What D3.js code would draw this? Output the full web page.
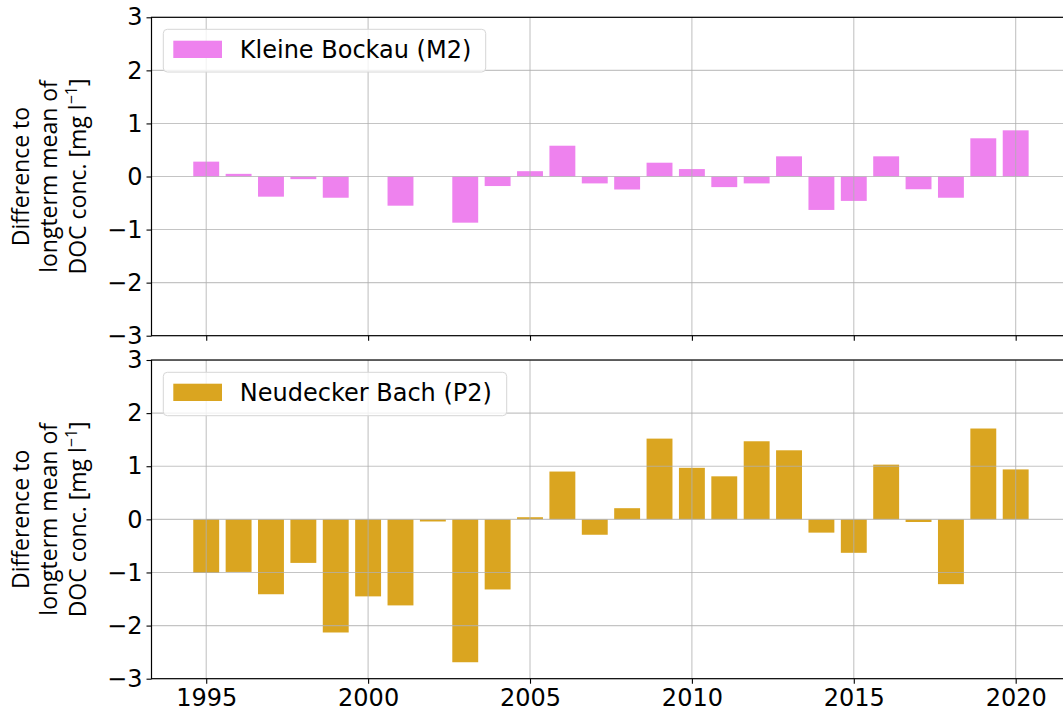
<!DOCTYPE html>
<html>
<head>
<meta charset="utf-8">
<script src="https://cdn.jsdelivr.net/npm/d3@7"></script>
<style>
  html, body { margin: 0; padding: 0; background: #fff; }
  svg { display: block; }
</style>
</head>
<body>
<svg id="chart" width="1063" height="715"></svg>
<script>
// Yearly deviation of DOC concentration from the long-term mean
const years = [1995, 1996, 1997, 1998, 1999, 2000, 2001, 2002, 2003, 2004,
               2005, 2006, 2007, 2008, 2009, 2010, 2011, 2012, 2013, 2014,
               2015, 2016, 2017, 2018, 2019, 2020];

const kleineBockau = [0.28, 0.05, -0.38, -0.05, -0.40, null, -0.55, null, -0.87, -0.18,
                      0.10, 0.58, -0.13, -0.245, 0.26, 0.14, -0.20, -0.13, 0.38, -0.63,
                      -0.46, 0.38, -0.24, -0.40, 0.72, 0.87];

const neudeckerBach = [-1.01, -0.99, -1.41, -0.82, -2.13, -1.45, -1.62, -0.04, -2.69, -1.32,
                       0.04, 0.90, -0.29, 0.21, 1.52, 0.97, 0.81, 1.47, 1.30, -0.25,
                       -0.63, 1.03, -0.05, -1.22, 1.71, 0.94];

const seriesNames = ["Kleine Bockau (M2)", "Neudecker Bach (P2)"];
const seriesColors = ["#ee82ee", "#daa520"];
const yTicks = [-3, -2, -1, 0, 1, 2, 3];
const xTicks = [1995, 2000, 2005, 2010, 2015, 2020];
const yLabelLines = ["Difference to", "longterm mean of", "DOC conc. [mg l"];

const svg = d3.select("#chart");
const tickFont = "DejaVu Sans, sans-serif";
const fontSize = 24;

const barWidth = 0.8;
const x = d3.scaleLinear().domain([1993.31, 2021.69]).range([151.5, 1070.4]);

const panels = [
  { values: kleineBockau, top: 17.3, bottom: 335.7, showXLabels: false,
    legend: { x: 163.3, y: 29.3, w: 322.4, h: 42.7 } },
  { values: neudeckerBach, top: 360, bottom: 678.7, showXLabels: true,
    legend: { x: 163.3, y: 372.3, w: 343.4, h: 43.4 } }
];

const fmt = d => (d < 0 ? "\u2212" + Math.abs(d) : String(d));

panels.forEach((p, i) => {
  const y = d3.scaleLinear().domain([-3, 3]).range([p.bottom, p.top]);
  const g = svg.append("g");

  // clip to the axes area
  const clipId = "clip" + i;
  svg.append("clipPath").attr("id", clipId)
    .append("rect")
    .attr("x", x.range()[0]).attr("y", p.top)
    .attr("width", x.range()[1] - x.range()[0]).attr("height", p.bottom - p.top);

  const data = years.map((yr, k) => ({ year: yr, v: p.values[k] })).filter(d => d.v != null);

  // bars
  g.append("g").attr("clip-path", `url(#${clipId})`)
    .selectAll("rect").data(data).join("rect")
    .attr("x", d => x(d.year - barWidth / 2))
    .attr("width", d => x(d.year + barWidth / 2) - x(d.year - barWidth / 2))
    .attr("y", d => y(Math.max(0, d.v)))
    .attr("height", d => Math.abs(y(d.v) - y(0)))
    .attr("fill", seriesColors[i]);

  // grid (drawn over the bars)
  const grid = g.append("g").attr("clip-path", `url(#${clipId})`)
    .attr("stroke", "#b0b0b0").attr("stroke-opacity", 0.75).attr("stroke-width", 1.1);
  grid.selectAll("line.h").data(yTicks).join("line").attr("class", "h")
    .attr("x1", x.range()[0]).attr("x2", x.range()[1])
    .attr("y1", d => y(d)).attr("y2", d => y(d));
  grid.selectAll("line.v").data(xTicks).join("line").attr("class", "v")
    .attr("x1", d => x(d)).attr("x2", d => x(d))
    .attr("y1", p.top).attr("y2", p.bottom);

  // y axis
  const yAxis = g.append("g")
    .attr("transform", `translate(${x.range()[0]},0)`)
    .call(d3.axisLeft(y).tickValues(yTicks).tickFormat(fmt).tickSize(5).tickPadding(4));
  yAxis.select(".domain").remove();
  yAxis.selectAll("line").attr("stroke", "#000").attr("stroke-width", 1.1);
  yAxis.selectAll("text").attr("font-family", tickFont).attr("font-size", fontSize)
    .attr("fill", "#000");

  // x axis
  const xAxis = g.append("g")
    .attr("transform", `translate(0,${p.bottom})`)
    .call(d3.axisBottom(x).tickValues(xTicks).tickFormat(p.showXLabels ? d3.format("d") : () => "")
      .tickSize(5).tickPadding(5));
  xAxis.select(".domain").remove();
  xAxis.selectAll("line").attr("stroke", "#000").attr("stroke-width", 1.1);
  xAxis.selectAll("text").attr("font-family", tickFont).attr("font-size", fontSize)
    .attr("fill", "#000");

  // spines
  g.append("rect")
    .attr("x", x.range()[0]).attr("y", p.top)
    .attr("width", x.range()[1] - x.range()[0]).attr("height", p.bottom - p.top)
    .attr("fill", "none").attr("stroke", "#000").attr("stroke-width", 1.2);

  // legend
  const L = p.legend;
  const lg = g.append("g");
  lg.append("rect")
    .attr("x", L.x).attr("y", L.y).attr("width", L.w).attr("height", L.h)
    .attr("rx", 4).attr("ry", 4)
    .attr("fill", "#fff").attr("fill-opacity", 0.8)
    .attr("stroke", "#d6d6d6").attr("stroke-width", 1);
  lg.append("rect")
    .attr("x", L.x + 10).attr("y", L.y + 11.4).attr("width", 48.7).attr("height", 17.3)
    .attr("fill", seriesColors[i]);
  lg.append("text")
    .attr("x", L.x + 76.5).attr("y", L.y + 29)
    .attr("font-family", tickFont).attr("font-size", fontSize).attr("fill", "#000")
    .text(seriesNames[i]);

  // y label (three lines, rotated)
  const cy = (p.top + p.bottom) / 2;
  const lineX = [28.5, 57, 85.5];
  yLabelLines.forEach((t, k) => {
    const tx = svg.append("text")
      .attr("transform", `translate(${lineX[k]},${cy}) rotate(-90)`)
      .attr("text-anchor", "middle")
      .attr("font-family", "Open Sans, sans-serif").attr("font-size", 23)
      .attr("fill", "#000");
    tx.append("tspan").text(t);
    if (k === 2) {
      tx.append("tspan").attr("font-size", 16).attr("dy", -9).text("\u22121");
      tx.append("tspan").attr("dy", 9).text("]");
    }
  });
});
</script>
</body>
</html>
